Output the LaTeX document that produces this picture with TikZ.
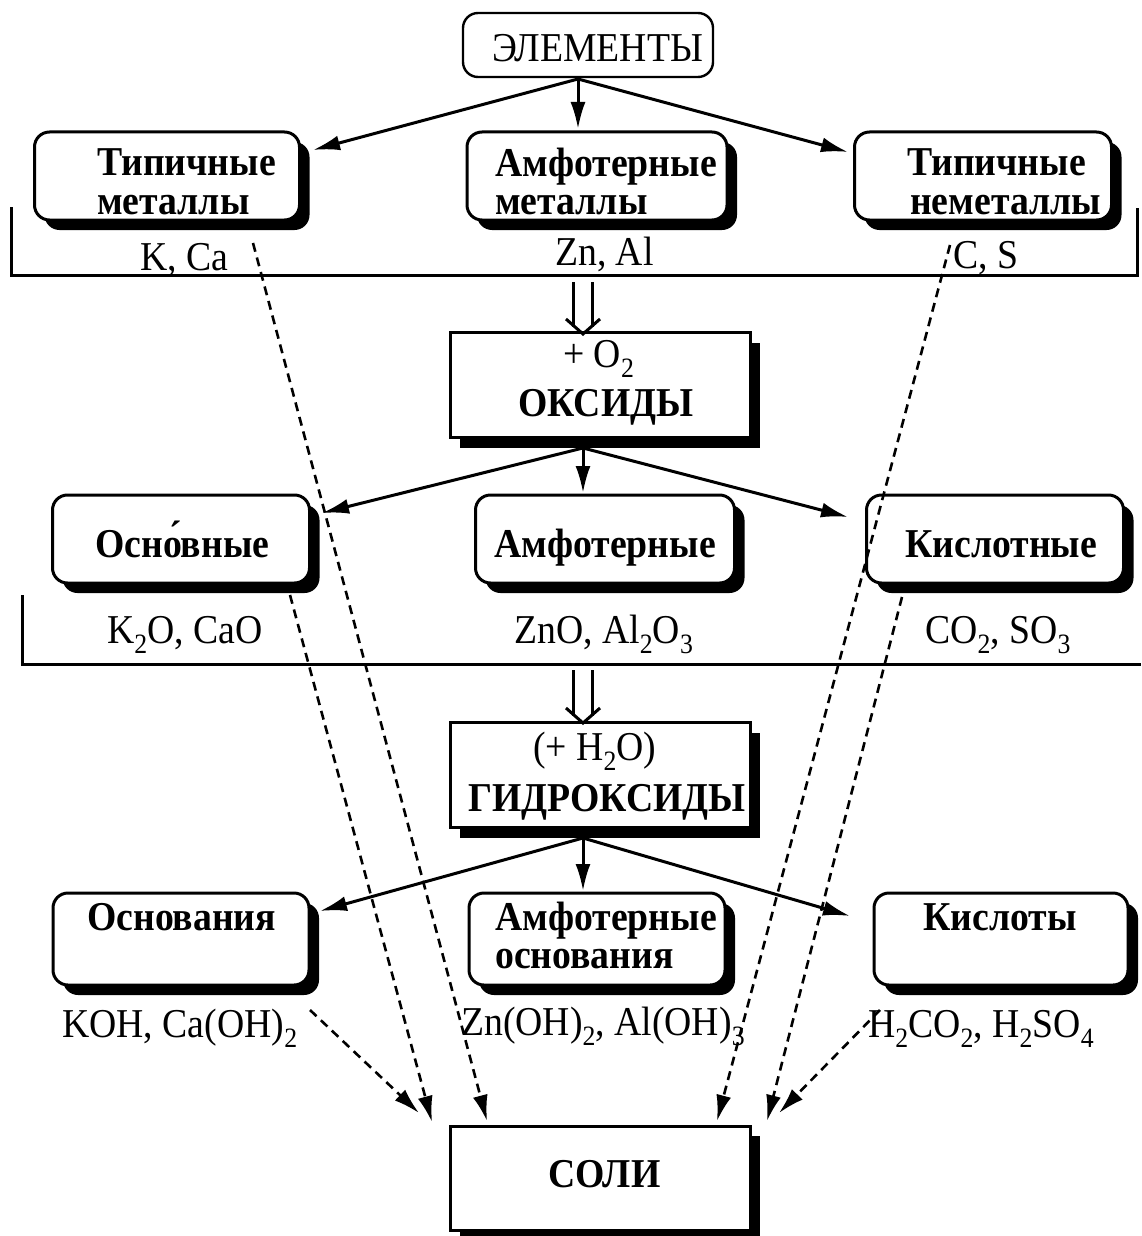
\documentclass[tikz,border=0pt]{standalone}
\usepackage{fontspec}
\setmainfont{Liberation Serif}[FakeStretch=0.92]
\usetikzlibrary{shadows,arrows.meta}
\newcommand\sbs[1]{\raisebox{-0.25em}{\fontsize{28}{28}\selectfont #1}}
\begin{document}
\begin{tikzpicture}[x=1pt,y=-1pt,
  shadowed/.style={drop shadow={shadow xshift=10pt,shadow yshift=-10pt,opacity=1,fill=black}},
  rbox/.style={draw,line width=3pt,rounded corners=15pt,fill=white,inner sep=0pt,shadowed},
  ebox/.style={draw,line width=2.4pt,rounded corners=15pt,fill=white,inner sep=0pt},
  sbox/.style={draw,line width=3pt,fill=white,inner sep=0pt,shadowed},
  lab/.style={inner sep=0pt,font=\fontsize{41}{43}\selectfont,anchor=base west},
  blab/.style={inner sep=0pt,font=\fontsize{41}{43}\selectfont\bfseries,anchor=base west},
  arr/.style={line width=3pt,-{Latex[length=27pt,width=15pt]}},
  darr/.style={line width=2.6pt,dash pattern=on 9pt off 6pt,-{Latex[length=26pt,width=15pt]}},
  ln/.style={line width=3pt}]
\useasboundingbox (0,0) rectangle (1141,1236);

% ---- boxes
\node[ebox,minimum width=250pt,minimum height=64pt] (elem) at (588,45) {};
\node[rbox,minimum width=265pt,minimum height=88pt] (tm) at (167,176) {};
\node[rbox,minimum width=260pt,minimum height=88pt] (am) at (597,176) {};
\node[rbox,minimum width=257pt,minimum height=88pt] (tn) at (983,176) {};
\node[sbox,minimum width=300pt,minimum height=105pt] (oks) at (600,385) {};
\node[rbox,minimum width=257pt,minimum height=88pt] (osn) at (181,539) {};
\node[rbox,minimum width=259pt,minimum height=88pt] (amo) at (605,539) {};
\node[rbox,minimum width=257pt,minimum height=88pt] (kis) at (995,539) {};
\node[sbox,minimum width=300pt,minimum height=105pt] (gid) at (600,775) {};
\node[rbox,minimum width=256pt,minimum height=92pt] (osv) at (181,939) {};
\node[rbox,minimum width=256pt,minimum height=92pt] (amb) at (597,939) {};
\node[rbox,minimum width=254pt,minimum height=92pt] (kst) at (1001,939) {};
\node[sbox,minimum width=300pt,minimum height=104pt] (sol) at (600,1178) {};

% ---- texts in boxes
\node[lab] (telem) at (492,62) {ЭЛЕМЕНТЫ};
\node[blab] (ttm1) at (97,175) {Типичные};
\node[blab] (ttm2) at (97,214) {металлы};
\node[blab] (tam1) at (495,176) {Амфотерные};
\node[blab] (tam2) at (495,214) {металлы};
\node[blab] (ttn1) at (907,175) {Типичные};
\node[blab] (ttn2) at (910,214) {неметаллы};
\node[lab] (toks1) at (563,367) {+ O\sbs{2}};
\node[blab] (toks2) at (518,416) {ОКСИДЫ};
\node[blab] (tosn) at (95,557) {Осно́вные};
\node[blab] (tamo) at (494,557) {Амфотерные};
\node[blab] (tkis) at (905,557) {Кислотные};
\node[lab] (tgid1) at (533,760) {(+ H\sbs{2}O)};
\node[blab] (tgid2) at (468,811) {ГИДРОКСИДЫ};
\node[blab] (tosv) at (87,930) {Основания};
\node[blab] (tamb1) at (495,930) {Амфотерные};
\node[blab] (tamb2) at (495,968) {основания};
\node[blab] (tkst) at (923,930) {Кислоты};
\node[blab] (tsol) at (548,1187) {СОЛИ};

% ---- labels under boxes
\node[lab] (lk) at (140,270) {K, Ca};
\node[lab] (lzn) at (555,265) {Zn, Al};
\node[lab] (lc) at (953,268) {C, S};
\node[lab] (lk2) at (107,643) {K\sbs{2}O, CaO};
\node[lab] (lzn2) at (514,643) {ZnO, Al\sbs{2}O\sbs{3}};
\node[lab] (lc2) at (925,643) {CO\sbs{2}, SO\sbs{3}};
\node[lab] (lk3) at (62,1037) {KOH, Ca(OH)\sbs{2}};
\node[lab] (lzn3) at (461,1035) {Zn(OH)\sbs{2}, Al(OH)\sbs{3}};
\node[lab] (lc3) at (868,1037) {H\sbs{2}CO\sbs{2}, H\sbs{2}SO\sbs{4}};

% ---- brackets
\draw[ln] (11,207) -- (11,275) -- (1137,275) -- (1137,208);
\draw[ln] (22,595) -- (22,664) -- (1141,664);

% ---- arrows from ELEMENTS
\coordinate (e0) at (578,79);
\coordinate (tmA) at (313,150);
\coordinate (amA) at (578,129);
\coordinate (tnA) at (848,152);
\draw[arr] (e0) -- (tmA);
\draw[arr] (e0) -- (amA);
\draw[arr] (e0) -- (tnA);

% ---- double arrows
\coordinate (d1) at (583,282);
\coordinate (d1t) at (583,334);
\draw[ln] ([xshift=-9.5pt]d1) -- ([xshift=-9.5pt,yshift=7pt]d1t);
\draw[ln] ([xshift=9.5pt]d1) -- ([xshift=9.5pt,yshift=7pt]d1t);
\draw[ln] ([xshift=-17pt,yshift=15pt]d1t) -- (d1t) -- ([xshift=17pt,yshift=15pt]d1t);
\coordinate (d2) at (583,670);
\coordinate (d2t) at (583,723);
\draw[ln] ([xshift=-9.5pt]d2) -- ([xshift=-9.5pt,yshift=7pt]d2t);
\draw[ln] ([xshift=9.5pt]d2) -- ([xshift=9.5pt,yshift=7pt]d2t);
\draw[ln] ([xshift=-17pt,yshift=15pt]d2t) -- (d2t) -- ([xshift=17pt,yshift=15pt]d2t);

% ---- arrows from OXIDES
\coordinate (o0) at (583,448);
\coordinate (osnA) at (322,513);
\coordinate (amoA) at (583,493);
\coordinate (kisA) at (848,517);
\draw[arr] (o0) -- (osnA);
\draw[arr] (o0) -- (amoA);
\draw[arr] (o0) -- (kisA);

% ---- arrows from HYDROXIDES
\coordinate (g0) at (583,838);
\coordinate (osvA) at (320,911);
\coordinate (ambA) at (583,891);
\coordinate (kstA) at (850,916);
\draw[arr] (g0) -- (osvA);
\draw[arr] (g0) -- (ambA);
\draw[arr] (g0) -- (kstA);

% ---- dashed arrows to SALTS
\coordinate (s1) at (253,243);
\coordinate (s2) at (290,595);
\coordinate (s3) at (310,1010);
\coordinate (s4) at (950,245);
\coordinate (s5) at (902,597);
\coordinate (s6) at (880,1010);
\coordinate (t1) at (487,1121);
\coordinate (t2) at (432,1122);
\coordinate (t3) at (419,1113);
\coordinate (t4) at (717,1121);
\coordinate (t5) at (767,1121);
\coordinate (t6) at (779,1113);
\draw[darr] (s1) -- (t1);
\draw[darr] (s2) -- (t2);
\draw[darr] (s3) -- (t3);
\draw[darr] (s4) -- (t4);
\draw[darr] (s5) -- (t5);
\draw[darr] (s6) -- (t6);
\end{tikzpicture}
\end{document}
